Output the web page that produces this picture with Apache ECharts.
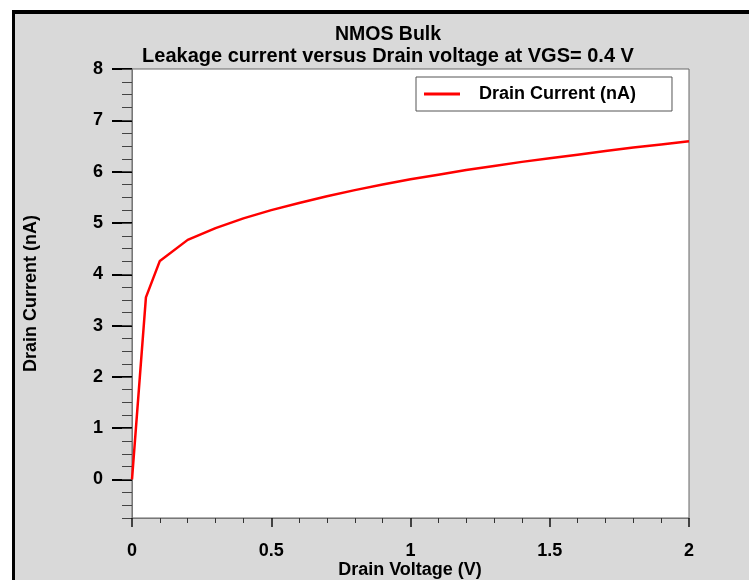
<!DOCTYPE html>
<html>
<head>
<meta charset="utf-8">
<script src="https://cdn.jsdelivr.net/npm/echarts@6/dist/echarts.min.js"></script>
<style>
html,body{margin:0;padding:0;background:#fff;}
#frame{position:absolute;left:12px;top:10px;width:737px;height:570px;box-sizing:border-box;border-left:3px solid #000;border-top:4px solid #000;background:#d9d9d9;}
#chart{position:absolute;left:0;top:0;width:749px;height:580px;}
</style>
</head>
<body>
<div id="frame"></div>
<div id="chart"></div>
<script>
const titleLines = ['NMOS Bulk', 'Leakage current versus Drain voltage at VGS= 0.4 V'];
const xName = 'Drain Voltage (V)';
const yName = 'Drain Current (nA)';
const seriesName = 'Drain Current (nA)';
const voltage = [0, 0.05, 0.1, 0.2, 0.3, 0.4, 0.5, 0.6, 0.7, 0.8, 0.9, 1.0, 1.1, 1.2, 1.3, 1.4, 1.5, 1.6, 1.7, 1.8, 1.9, 2.0];
const current = [0, 3.55, 4.26, 4.67, 4.90, 5.09, 5.25, 5.39, 5.52, 5.64, 5.75, 5.85, 5.94, 6.03, 6.11, 6.19, 6.26, 6.33, 6.40, 6.47, 6.53, 6.59];
const yMajorTicks = [0, 1, 2, 3, 4, 5, 6, 7, 8];

const FONT = '"Liberation Sans", Arial, sans-serif';
const chart = echarts.init(document.getElementById('chart'));
chart.setOption({
  backgroundColor: 'transparent',
  animation: false,
  textStyle: { fontFamily: FONT },
  graphic: [
    { type: 'text', x: 388, y: 35, style: { text: titleLines[0], font: 'bold 19.5px ' + FONT, fill: '#000', align: 'center', verticalAlign: 'middle' } },
    { type: 'text', x: 388, y: 56, style: { text: titleLines[1], font: 'bold 20px ' + FONT, fill: '#000', align: 'center', verticalAlign: 'middle' } },
    { type: 'text', x: 410, y: 570, style: { text: xName, font: 'bold 18px ' + FONT, fill: '#000', align: 'center', verticalAlign: 'middle' } }
  ],
  legend: {
    left: 416, top: 77,
    padding: [8, 36, 8, 8],
    backgroundColor: '#fff',
    borderColor: '#555', borderWidth: 1, borderRadius: 0,
    itemWidth: 36, itemHeight: 3,
    icon: 'rect',
    textStyle: { fontFamily: FONT, fontWeight: 'bold', fontSize: 18, color: '#000', padding: [0, 0, 0, 14] },
    data: [seriesName]
  },
  grid: {
    left: 132, top: 69, right: 60, bottom: 62,
    show: true, backgroundColor: '#fff', borderColor: '#666', borderWidth: 1,
    containLabel: false,
    outerBoundsMode: 'none'
  },
  xAxis: {
    type: 'value', min: 0, max: 2, interval: 0.5,
    axisLine: { show: true, onZero: false, lineStyle: { color: '#777', width: 1 } },
    axisTick: { show: true, length: 9, lineStyle: { color: '#111', width: 1.5 } },
    minorTick: { show: true, splitNumber: 5, length: 5, lineStyle: { color: '#333', width: 1 } },
    axisLabel: { margin: 24, fontFamily: FONT, fontWeight: 'bold', fontSize: 18, color: '#000' },
    splitLine: { show: false }
  },
  yAxis: [
    {
      type: 'value', min: -0.75, max: 8, position: 'left', offset: 0,
      name: yName, nameLocation: 'middle', nameGap: 92, nameRotate: 90,
      nameTextStyle: { fontFamily: FONT, fontWeight: 'bold', fontSize: 18, color: '#000' },
      axisLine: { show: true, onZero: false, lineStyle: { color: '#777', width: 1 } },
      axisTick: { show: true, length: 20, customValues: yMajorTicks, lineStyle: { color: '#000', width: 2 } },
      axisLabel: { margin: 29, customValues: yMajorTicks, fontFamily: FONT, fontWeight: 'bold', fontSize: 18, color: '#000' },
      splitLine: { show: false }
    },
    {
      type: 'value', min: -0.75, max: 8, interval: 0.25, position: 'left', offset: 0,
      axisLine: { show: false, onZero: false },
      axisTick: { show: true, length: 10, lineStyle: { color: '#444', width: 1 } },
      axisLabel: { show: false },
      splitLine: { show: false }
    }
  ],
  series: [{
    name: seriesName,
    type: 'line',
    yAxisIndex: 0,
    symbol: 'none',
    color: '#ff0000',
    lineStyle: { color: '#ff0000', width: 2.5 },
    data: voltage.map((v, i) => [v, current[i]])
  }]
});
</script>
</body>
</html>
